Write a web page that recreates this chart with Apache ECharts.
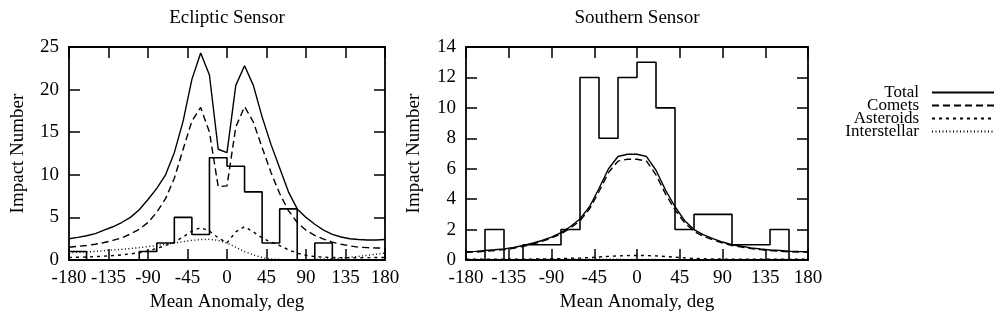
<!DOCTYPE html>
<html><head><meta charset="utf-8">
<script src="https://cdn.jsdelivr.net/npm/echarts@6/dist/echarts.min.js"></script>
<style>html,body{margin:0;padding:0;background:#fff}#c{width:995px;height:332px}</style>
</head><body><div id="c"></div>
<script>
// Mean anomaly sample points (deg) for the model curves
const anomalyDeg = [-180,-170,-160,-150,-140,-130,-120,-110,-100,-90,-80,-70,-60,-50,-40,-30,-20,-10,0,10,20,30,40,50,60,70,80,90,100,110,120,130,140,150,160,170,180];
// Histogram bin edges (deg)
const binEdges = [-180,-160,-140,-120,-100,-80,-60,-40,-20,0,20,40,60,80,100,120,140,160,180];
const xTicks = [-180,-135,-90,-45,0,45,90,135,180];

// Ecliptic sensor
const eclCounts = [1,0,0,0,1,2,5,3,12,11,8,2,6,0,2,0,0,0];
const eclTotal = [2.5,2.65,2.85,3.1,3.5,3.9,4.4,5.0,5.9,7.1,8.4,10.0,12.6,16.3,21.2,24.3,21.7,13.0,12.6,20.5,22.8,20.5,16.8,13.6,10.8,8.0,6.0,5.0,4.2,3.5,3.0,2.7,2.5,2.4,2.35,2.35,2.4];
const eclComets = [1.5,1.6,1.7,1.85,2.05,2.3,2.6,3.05,3.6,4.4,5.6,7.2,9.6,13.0,16.3,17.9,15.0,8.6,8.7,15.6,18.0,16.2,13.2,10.3,7.8,5.8,4.4,3.5,2.9,2.45,2.1,1.85,1.65,1.5,1.45,1.4,1.4];
const eclAsteroids = [0.3,0.32,0.35,0.4,0.45,0.52,0.6,0.72,0.85,1.05,1.35,1.7,2.1,2.7,3.4,3.8,3.4,2.6,2.0,3.3,3.9,3.3,2.6,2.1,1.7,1.2,0.8,0.55,0.4,0.33,0.3,0.28,0.27,0.27,0.28,0.29,0.3];
const eclInterstellar = [0.85,0.9,0.95,1.0,1.1,1.18,1.25,1.35,1.45,1.58,1.7,1.85,2.0,2.15,2.3,2.4,2.42,2.3,2.0,1.5,1.0,0.6,0.3,0.12,0.05,0.02,0.02,0.03,0.05,0.1,0.15,0.22,0.32,0.42,0.55,0.68,0.8];

// Southern sensor
const souCounts = [0,2,0,1,1,2,12,8,12,13,10,2,3,3,1,1,2,0];
const souTotal = [0.55,0.57,0.62,0.67,0.73,0.82,0.95,1.1,1.28,1.5,1.8,2.2,2.7,3.5,4.7,6.0,6.8,6.95,6.95,6.8,5.9,4.6,3.5,2.6,2.0,1.65,1.4,1.18,1.0,0.9,0.8,0.72,0.66,0.62,0.58,0.56,0.55];
const souComets = [0.5,0.52,0.57,0.62,0.68,0.77,0.89,1.04,1.22,1.44,1.72,2.1,2.58,3.35,4.5,5.75,6.5,6.62,6.62,6.5,5.6,4.35,3.3,2.45,1.88,1.56,1.32,1.12,0.95,0.85,0.76,0.68,0.62,0.58,0.54,0.52,0.51];
const souAsteroids = [0.05,0.05,0.05,0.05,0.05,0.05,0.06,0.06,0.07,0.08,0.09,0.11,0.13,0.16,0.2,0.24,0.27,0.29,0.3,0.29,0.27,0.23,0.18,0.14,0.1,0.08,0.07,0.06,0.05,0.05,0.05,0.05,0.05,0.05,0.05,0.05,0.05];
const souInterstellar = [0.04,0.04,0.04,0.04,0.04,0.04,0.04,0.04,0.05,0.05,0.05,0.05,0.05,0.05,0.05,0.05,0.05,0.04,0.04,0.03,0.03,0.02,0.02,0.02,0.02,0.02,0.02,0.02,0.02,0.02,0.02,0.03,0.03,0.03,0.03,0.04,0.04];

const seriesNames = ['Total','Comets','Asteroids','Interstellar'];
const dashTypes = ['solid',[7,4],[3,4],[1,2.5]];

const FONT = 'Liberation Serif';
const BLACK = '#000';
const FS = 19;

function xAxisPair(grid, title){
  const base = {type:'value', gridIndex:grid, min:-180, max:180, interval:45,
    axisLine:{show:true, onZero:false, lineStyle:{color:BLACK, width:1.8}},
    axisTick:{show:true, inside:true, length:11, lineStyle:{color:BLACK, width:1.5}},
    splitLine:{show:false}};
  return [
    Object.assign({}, base, {position:'bottom', name:'Mean Anomaly, deg', nameLocation:'middle', nameGap:30,
      nameTextStyle:{fontSize:FS, color:BLACK, fontFamily:FONT},
      axisLabel:{show:true, color:BLACK, fontSize:FS, fontFamily:FONT, margin:9}}),
    Object.assign({}, base, {position:'top', name:title, nameLocation:'middle', nameGap:19,
      nameTextStyle:{fontSize:FS, color:BLACK, fontFamily:FONT},
      axisLabel:{show:false}})
  ];
}
function yAxisPair(grid, max, interval, gap){
  const base = {type:'value', gridIndex:grid, min:0, max:max, interval:interval,
    axisLine:{show:true, onZero:false, lineStyle:{color:BLACK, width:1.8}},
    axisTick:{show:true, inside:true, length:11, lineStyle:{color:BLACK, width:1.5}},
    splitLine:{show:false}};
  return [
    Object.assign({}, base, {position:'left', name:'Impact Number', nameLocation:'middle', nameGap:gap,
      nameTextStyle:{fontSize:FS, color:BLACK, fontFamily:FONT},
      axisLabel:{show:true, color:BLACK, fontSize:FS, fontFamily:FONT, margin:10}}),
    Object.assign({}, base, {position:'right', axisLabel:{show:false}})
  ];
}

function curveSeries(axisIdx, arrays){
  return arrays.map((arr, k) => ({
    type:'line', name:seriesNames[k], xAxisIndex:axisIdx, yAxisIndex:axisIdx,
    data: anomalyDeg.map((a,i)=>[a, arr[i]]),
    symbol:'none', showSymbol:false, silent:true,
    lineStyle:{color:BLACK, width:1.4, type:dashTypes[k]},
    itemStyle:{color:BLACK}, z:3
  }));
}
function histSeries(axisIdx, name, counts){
  return {
    type:'line', name:name, xAxisIndex:axisIdx, yAxisIndex:axisIdx, step:'end',
    data: binEdges.map((e,i)=>[e, counts[Math.min(i, counts.length-1)]]),
    symbol:'none', showSymbol:false, silent:true,
    lineStyle:{color:BLACK, width:1.6}, itemStyle:{color:BLACK}, z:4
  };
}

const chart = echarts.init(document.getElementById('c'), null, {renderer:'canvas'});
chart.setOption({
  animation:false,
  backgroundColor:'#fff',
  textStyle:{fontFamily:FONT, color:BLACK},
  grid:[
    {left:69, top:47, width:316, height:213, containLabel:false},
    {left:466, top:47, width:342, height:213, containLabel:false}
  ],
  xAxis:[...xAxisPair(0,'Ecliptic Sensor'), ...xAxisPair(1,'Southern Sensor')],
  yAxis:[...yAxisPair(0,25,5,41), ...yAxisPair(1,14,2,42)],
  legend:{
    data:seriesNames, orient:'vertical', right:0, top:84, align:'right',
    itemWidth:62, itemHeight:10, itemGap:-4, padding:0, selectedMode:false,
    itemStyle:{opacity:0},
    textStyle:{fontSize:17, color:BLACK, fontFamily:FONT, padding:[0,8,0,0]}
  },
  series:[
    histSeries(0,'Ecliptic impacts',eclCounts),
    ...curveSeries(0,[eclTotal,eclComets,eclAsteroids,eclInterstellar]),
    histSeries(2,'Southern impacts',souCounts),
    ...curveSeries(2,[souTotal,souComets,souAsteroids,souInterstellar])
  ]
});
</script></body></html>
